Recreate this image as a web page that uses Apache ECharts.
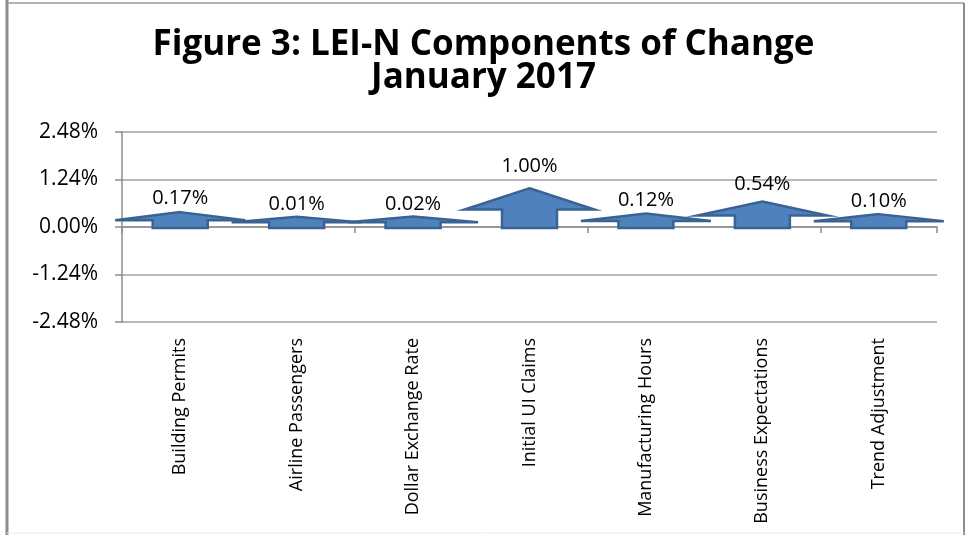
<!DOCTYPE html>
<html>
<head>
<meta charset="utf-8">
<script src="https://cdn.jsdelivr.net/npm/echarts@6/dist/echarts.min.js"></script>
<style>
  html, body { margin: 0; padding: 0; background: #fff; }
  #chart { width: 967px; height: 535px; }
</style>
</head>
<body>
<div id="chart"></div>
<script>
// 数据
const categories = ['Building Permits', 'Airline Passengers', 'Dollar Exchange Rate', 'Initial UI Claims',
  'Manufacturing Hours', 'Business Expectations', 'Trend Adjustment'];
const changes = [0.17, 0.01, 0.02, 1.00, 0.12, 0.54, 0.10];
const yTicks = [-2.48, -1.24, 0, 1.24, 2.48];

const FONT = '"Open Sans", "DejaVu Sans", sans-serif';
const arrowFill = '#4f81bd';
const arrowLine = '#3a6393';

const chart = echarts.init(document.getElementById('chart'));

// 箭头形状
function renderArrow(params, api) {
  const x = api.coord([api.value(0), 0])[0];
  const zeroY = api.coord([api.value(0), 0])[1];
  const valY = api.coord([api.value(0), api.value(1)])[1];
  const h = (zeroY - valY) * 0.75 + 10;
  const tipY = zeroY - h;
  const baseY = tipY + h * 0.55;
  const bottomY = zeroY + 1;
  const hw = 65, bw = 27.5;
  return {
    type: 'group',
    children: [
      {
        type: 'polygon',
        shape: {
          points: [
            [x, tipY], [x + hw, baseY], [x + bw, baseY], [x + bw, bottomY],
            [x - bw, bottomY], [x - bw, baseY], [x - hw, baseY]
          ]
        },
        style: { fill: arrowFill, stroke: arrowLine, lineWidth: 2.5, lineJoin: 'miter' }
      },
      {
        type: 'text',
        style: {
          text: api.value(1).toFixed(2) + '%',
          x: x,
          y: valY - 22,
          align: 'center',
          verticalAlign: 'middle',
          font: '20px ' + FONT,
          fill: '#000'
        }
      }
    ]
  };
}

const option = {
  backgroundColor: '#fff',
  animation: false,
  title: {
    text: 'Figure 3: LEI-N Components of Change\nJanuary 2017',
    left: 'center',
    top: 24,
    textStyle: {
      fontFamily: FONT,
      fontSize: 35,
      fontWeight: 'bold',
      color: '#000',
      lineHeight: 33,
      align: 'center'
    }
  },
  grid: { left: 122, right: 30, top: 132, bottom: 213 },
  xAxis: [
    {
      type: 'category',
      data: categories,
      axisLine: { onZero: true, lineStyle: { color: '#8c8c8c', width: 1.5 } },
      axisTick: { show: true, length: 6, lineStyle: { color: '#8c8c8c', width: 1.5 } },
      axisLabel: { show: false }
    },
    {
      type: 'category',
      data: categories,
      position: 'bottom',
      axisLine: { show: false, onZero: false },
      axisTick: { show: false },
      axisLabel: {
        rotate: 90,
        margin: 16,
        interval: 0,
        fontFamily: FONT,
        fontSize: 18,
        color: '#000'
      }
    }
  ],
  yAxis: {
    type: 'value',
    min: yTicks[0],
    max: yTicks[yTicks.length - 1],
    interval: 1.24,
    axisLine: { show: true, lineStyle: { color: '#8c8c8c', width: 1.5 } },
    axisTick: { show: true, length: 7, lineStyle: { color: '#8c8c8c', width: 1.5 } },
    axisLabel: {
      margin: 24,
      fontFamily: FONT,
      fontSize: 21,
      color: '#000',
      formatter: v => v.toFixed(2) + '%'
    },
    splitLine: { lineStyle: { color: '#a0a0a0', width: 1.5 } }
  },
  series: [
    {
      type: 'custom',
      xAxisIndex: 0,
      renderItem: renderArrow,
      data: categories.map((c, i) => [i, changes[i]]),
      clip: false,
      z: 5
    }
  ],
  graphic: [
    { type: 'line', shape: { x1: 7, y1: 0, x2: 7, y2: 535 }, style: { stroke: '#8c8c8c', lineWidth: 3 } },
    { type: 'line', shape: { x1: 7, y1: 3, x2: 964, y2: 3 }, style: { stroke: '#9a9a9a', lineWidth: 1.5 } },
    { type: 'line', shape: { x1: 964, y1: 3, x2: 964, y2: 535 }, style: { stroke: '#8c8c8c', lineWidth: 2 } },
    { type: 'line', shape: { x1: 7, y1: 533, x2: 964, y2: 533 }, style: { stroke: '#ececec', lineWidth: 1 } }
  ]
};

chart.setOption(option);
</script>
</body>
</html>
